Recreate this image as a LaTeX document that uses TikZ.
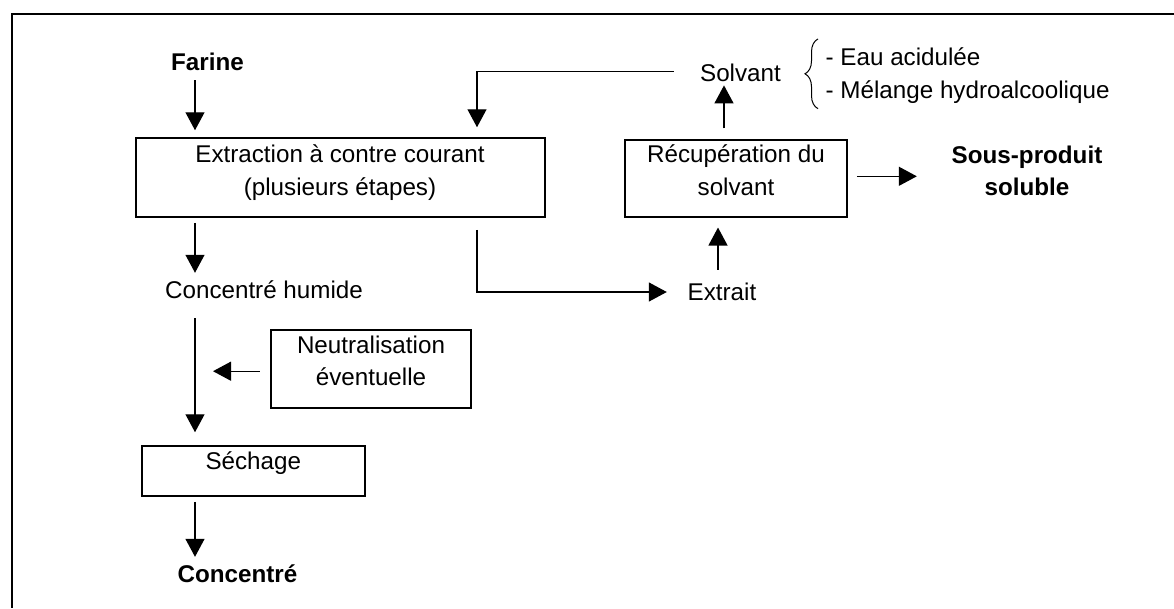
\documentclass[tikz,border=0pt]{standalone}
\usepackage{fontspec}
\setmainfont{Liberation Sans}
\usetikzlibrary{arrows.meta,decorations.pathreplacing}
\tikzset{
  font={\fontsize{24.2pt}{32.5pt}\selectfont}}

\begin{document}
\begin{tikzpicture}[x=1pt,y=-1pt]
\tikzstyle{every node}+=[inner sep=0pt]
\tikzstyle{boite}=[draw, line width=1.5pt]
\tikzstyle{fleche}=[-{Triangle[length=18pt,width=19pt]}, line width=1.3pt]
\useasboundingbox (0,0) rectangle (1174,608);
\draw [line width=2pt] (1174,13.5) -- (11.5,13.5) -- (11.5,608);
\coordinate (colA) at (195,0);
\coordinate (colB) at (477,0);
\coordinate (colC) at (718,0);
\coordinate (colD) at (724,0);
\node (farine) at (207.5,62) {\textbf{Farine}};
\node [boite, minimum width=409pt, minimum height=79pt] (extr) at (340.5,177.5) {};
\node [align=center] (extrtxt) at (340,172.4) {Extraction à contre courant\\(plusieurs étapes)};
\node (humide) at (264,290) {Concentré humide};
\node [boite, minimum width=200pt, minimum height=78pt] (neut) at (371,369.2) {};
\node [align=center] (neuttxt) at (371,361) {Neutralisation\\éventuelle};
\node [boite, minimum width=223pt, minimum height=50pt] (sech) at (253.3,471) {};
\node (sechtxt) at (253.3,463) {Séchage};
\node (conc) at (237.5,574) {\textbf{Concentré}};
\node (extrait) at (722,292) {Extrait};
\node [boite, minimum width=222pt, minimum height=77pt] (recup) at (736,178.3) {};
\node [align=center] (recuptxt) at (736,170) {Récupération du\\solvant};
\node (solv) at (740.5,73.3) {Solvant};
\node [align=left, anchor=west] (liste) at (825.5,75.8) {- Eau acidulée\\- Mélange hydroalcoolique};
\node [align=center] (sous) at (1027,171) {\textbf{Sous-produit}\\\textbf{soluble}};
\draw [fleche, shorten <=9pt, shorten >=7pt] (farine.south -| colA) -- (extr.north -| colA);
\draw [fleche, shorten <=5pt, shorten >=8pt] (extr.south -| colA) -- (humide.north -| colA);
\draw [fleche, shorten <=19pt, shorten >=13pt] (humide.south -| colA) -- (sech.north -| colA);
\draw [fleche, shorten <=10.7pt, shorten >=18pt] ([yshift=-2pt]neut.west) -- ([yshift=-2pt]neut.west -| colA);
\draw [fleche, shorten <=5pt, shorten >=8pt] (sech.south -| colA) -- (conc.north -| colA);
\draw [fleche, shorten <=26pt, shorten >=10pt] ([yshift=2pt]solv.west) -- ([yshift=2pt]solv.west -| colB) -- (extr.north -| colB);
\draw [fleche, shorten <=12pt, shorten >=20.7pt] (extr.south -| colB) |- (extrait.west);
\draw [fleche, shorten <=13pt, shorten >=10pt] (extrait.north -| colC) -- (recup.south -| colC);
\draw [fleche, shorten <=10.7pt, shorten >=3pt] (recup.north -| colD) -- (solv.south -| colD);
\draw [fleche, shorten <=9pt, shorten >=34.7pt] ([yshift=2pt]recup.east) -- ([yshift=2pt]recup.east -| sous.west);
\draw [decorate, decoration={brace, amplitude=13pt}, line width=1pt] ([xshift=-7.5pt, yshift=-5pt]liste.south west) -- ([xshift=-7.5pt, yshift=9pt]liste.north west);
\end{tikzpicture}
\end{document}
